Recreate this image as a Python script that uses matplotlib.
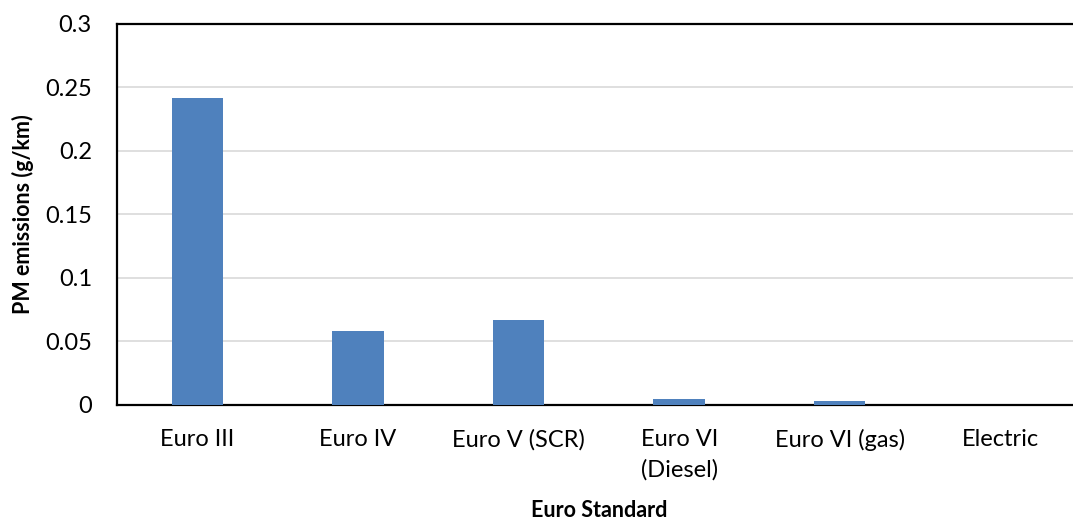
import matplotlib
matplotlib.use("Agg")
import matplotlib.pyplot as plt
import numpy as np

categories = ["Euro III", "Euro IV", "Euro V (SCR)", "Euro VI\n(Diesel)", "Euro VI (gas)", "Electric"]
pm_emissions = [0.242, 0.058, 0.067, 0.005, 0.003, 0.0]
yticks = [0, 0.05, 0.1, 0.15, 0.2, 0.25, 0.3]
ytick_labels = ["0", "0.05", "0.1", "0.15", "0.2", "0.25", "0.3"]

plt.rcParams['font.family'] = ['Lato', 'DejaVu Sans']

fig = plt.figure(figsize=(10.73, 5.24), dpi=100)
ax = fig.add_axes([0.109, 0.2271, 0.8982, 0.7271])

x = np.arange(len(categories))
ax.bar(x, pm_emissions, width=0.32, color="#4F81BD", zorder=3)

ax.set_xlim(-0.5, len(categories) - 0.5)
ax.set_ylim(0, 0.3)
ax.set_yticks(yticks)
ax.set_yticklabels(ytick_labels)
ax.set_xticks(x)
ax.set_xticklabels(categories, linespacing=1.55)
ax.tick_params(axis="both", length=0, labelsize=17)
ax.tick_params(axis="x", pad=17)
ax.tick_params(axis="y", pad=18)

ax.grid(axis="y", color="#D9D9D9", linewidth=1.2, zorder=0)
for side in ["left", "top", "bottom"]:
    ax.spines[side].set_color("black")
    ax.spines[side].set_linewidth(1.6)
ax.spines["right"].set_visible(False)

ax.set_xlabel("Euro Standard", fontsize=15.5, fontweight="bold", labelpad=14)
ax.set_ylabel("PM emissions (g/km)", fontsize=15.5, fontweight="bold", labelpad=8)

fig.savefig("out.png", dpi=100)
